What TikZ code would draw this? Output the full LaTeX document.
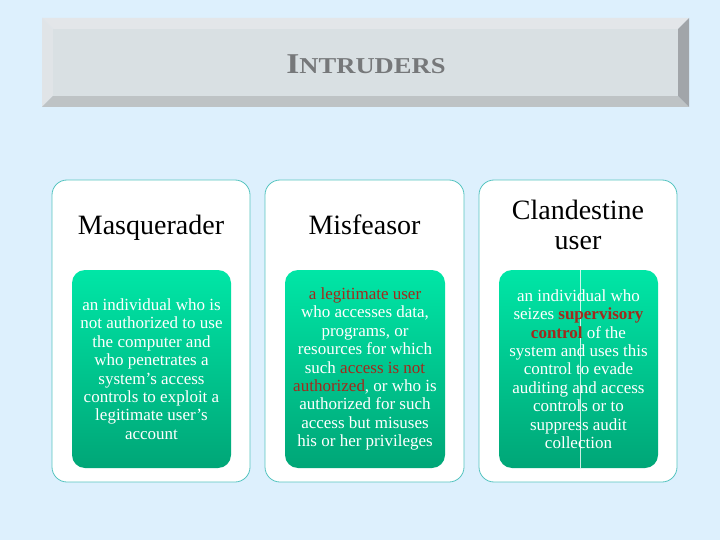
\documentclass[tikz,border=0pt]{standalone}
\usepackage{fontspec}
\setmainfont{Liberation Serif}
\newfontfamily\intrserif[Ligatures=TeX]{Liberation Serif}
\newfontfamily\intrtitlefont[FakeStretch=1.17]{Liberation Serif}
\usetikzlibrary{positioning}
\definecolor{intrBack}{HTML}{DDF0FD}
\definecolor{intrFace}{HTML}{D9E0E3}
\definecolor{intrTop}{HTML}{E3E6E9}
\definecolor{intrLeft}{HTML}{E0E4E7}
\definecolor{intrBottom}{HTML}{BEC3C5}
\definecolor{intrRight}{HTML}{A1A5A9}
\definecolor{intrGray}{HTML}{76787A}
\definecolor{intrRim}{HTML}{55C4C0}
\definecolor{intrMint}{HTML}{00E6A6}
\definecolor{intrDeep}{HTML}{00A677}
\definecolor{intrRed}{HTML}{A3291C}
\tikzset{
  every picture/.style={font=\intrserif},
  intr card/.style={draw=intrRim, line width=0.8pt, rounded corners=15pt,
    fill=white, minimum width=198pt, minimum height=302pt, inner sep=0pt},
  intr head/.style={align=center, font=\intrserif\fontsize{28}{30}\selectfont, text=black},
  intr desc/.style={rounded corners=13pt, top color=intrMint, bottom color=intrDeep,
    minimum width=159pt, minimum height=198pt, inner sep=0pt},
  intr body/.style={align=center, font=\intrserif\fontsize{17}{18.4}\selectfont, text=white},
  intr seam/.style={draw=white, line width=0.7pt, opacity=0.8}
}

\begin{document}
\begin{tikzpicture}[x=1pt,y=-1pt]
  \useasboundingbox[fill=intrBack] (0,0) rectangle (720,540);
  % bevelled title bar
  \fill[intrTop] (42,18) -- (689,18) -- (678,29) -- (53,29) -- cycle;
  \fill[intrLeft] (42,18) -- (53,29) -- (53,96) -- (42,107) -- cycle;
  \fill[intrBottom] (42,107) -- (53,96) -- (678,96) -- (689,107) -- cycle;
  \fill[intrRight] (689,18) -- (678,29) -- (678,96) -- (689,107) -- cycle;
  \fill[intrFace] (53,29) rectangle (678,96);
  \node[text=intrGray, font=\intrtitlefont\bfseries] (title) at (366,64)
    {{\fontsize{28.7}{30}\selectfont I}{\fontsize{22.7}{24}\selectfont NTRUDERS}};

  % the three cards
  \node[intr card] (card1) at (151,331) {};
  \node[intr card, minimum width=199pt] (card2) at (364.5,331) {};
  \node[intr card] (card3) at (578,331) {};

  \node[intr head, anchor=base] (head1) at (151,235) {Masquerader};
  \node[intr head, anchor=base] (head2) at (364.5,235) {Misfeasor};
  \node[intr head] (head3) at (578,225) {Clandestine\\user};

  \node[intr desc] (desc1) at (151.5,369) {};
  \node[intr desc, minimum width=160pt] (desc2) at (365,369) {};
  \node[intr desc] (desc3) at (578.5,369) {};
  \draw[intr seam] ([xshift=1.5pt]desc3.north) -- ([xshift=1.5pt]desc3.south);

  \node[intr body] (body1) at (desc1.center)
    {an individual who is\\not authorized to use\\the computer and\\who penetrates a\\system’s access\\controls to exploit a\\legitimate user’s\\account};
  \node[intr body] (body2) at (desc2.center)
    {\textcolor{intrRed}{a legitimate user}\\who accesses data,\\programs, or\\resources for which\\such \textcolor{intrRed}{access is not}\\\textcolor{intrRed}{authorized}, or who is\\authorized for such\\access but misuses\\his or her privileges};
  \node[intr body] (body3) at (desc3.center)
    {an individual who\\seizes \textcolor{intrRed}{\bfseries supervisory}\\\textcolor{intrRed}{\bfseries control} of the\\system and uses this\\control to evade\\auditing and access\\controls or to\\suppress audit\\collection};
\end{tikzpicture}
\end{document}
